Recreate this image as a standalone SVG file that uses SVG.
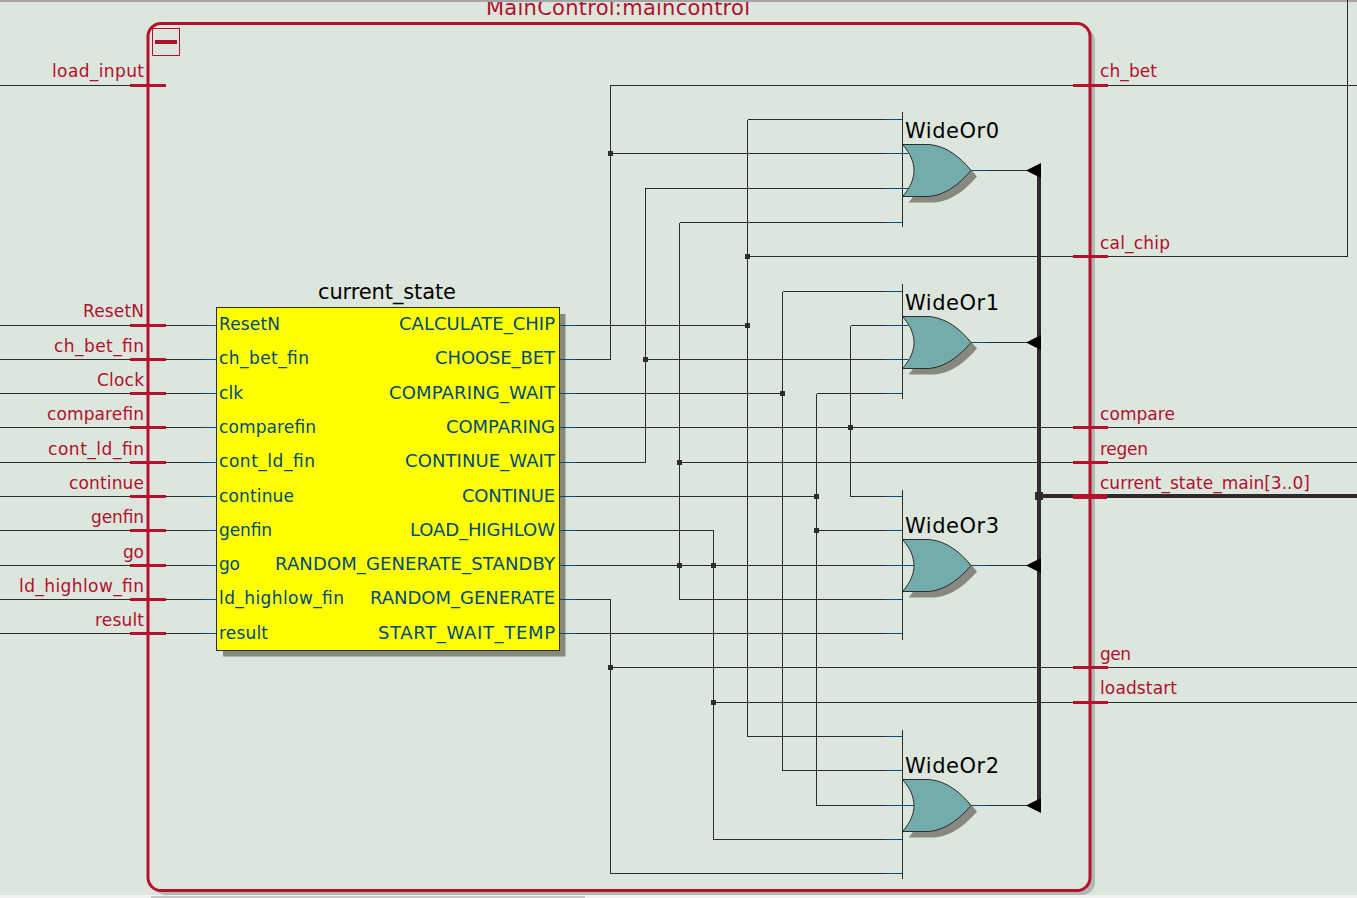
<svg xmlns="http://www.w3.org/2000/svg" width="1357" height="898" viewBox="0 0 1357 898">
<defs>
<path id="orShape" d="M0 -26 L27 -26 C45 -24 58 -13 68.500 0 C58 12 45 24 27 26 L0 26 C8 17 11.500 8 11.500 0 C11.500 -8 8 -17 0 -26 Z"/>
</defs>
<style>
text{font-family:"DejaVu Sans",sans-serif}
.w{fill:none;stroke:#2c2c2c;stroke-width:1;shape-rendering:crispEdges}
.stub{fill:none;stroke:#0a4a78;stroke-width:1;shape-rendering:crispEdges}
.bus{fill:none;stroke:#2c2c2c;stroke-width:4;shape-rendering:crispEdges}
.j{fill:#2c2c2c}
.tick{stroke:#b5102e;stroke-width:3;shape-rendering:crispEdges}
.pl,.pr{fill:#b0102c;font-size:17px}
.in{fill:#004a7a;font-size:17px}
.out{fill:#004a7a;font-size:18px;text-anchor:end}
.nm{fill:#000;font-size:21px}
.gate{fill:#74acac;stroke:#2c2c2c;stroke-width:1}
.shadow{fill:#87897f}
.arr{fill:#000}
</style>
<rect width="1357" height="898" fill="#dde6dd"/>
<rect x="0" y="895" width="1357" height="3" fill="#f2f2f2"/>
<rect x="151" y="896" width="434" height="2" fill="#c8c8c8"/>
<g id="frame">
<rect x="153" y="28" width="942" height="867" rx="13" fill="#b1b7b1"/>
<rect x="148" y="23.500" width="942" height="867" rx="13" fill="#dde6dd" stroke="#b5102e" stroke-width="3"/>
<rect x="152.500" y="28.500" width="27" height="27" fill="none" stroke="#b0102c" stroke-width="1"/>
<rect x="155" y="40" width="22" height="4" fill="#b0102c"/>
<text x="486" y="15" textLength="264" style="fill:#b0102c;font-size:21px">MainControl:maincontrol</text>
<rect x="0" y="0" width="1357" height="2" fill="#a5a5a5"/>
</g>
<g id="current_state_shadow">
<rect x="223" y="314" width="342.500" height="342.500" fill="#87897f"/>
</g>
<g id="connectors">
<path class="w" d="M0 85.500H131M0 325.500H217M0 359.500H217M0 393.500H217M0 427.500H217M0 462.500H217M0 496.500H217M0 530.500H217M0 565.500H217M0 599.500H217M0 633.500H217"/>
<path class="w" d="M559 325.500H747.500M747.500 119.500V736.500M747.500 119.500H902M747.500 736.500H902M747.500 256.500H1347.500V0"/>
<path class="w" d="M559 359.500H610.500V85.500H1357M610.500 153.500H902"/>
<path class="w" d="M559 462.500H645.500V188.500H902M645.500 359.500H902"/>
<path class="w" d="M559 393.500H782.500M782.500 291.500V770.500M782.500 291.500H902M782.500 770.500H902"/>
<path class="w" d="M559 427.500H1357M850.500 325.500V496.500M850.500 325.500H902M850.500 496.500H902"/>
<path class="w" d="M679.500 222.500V599.500M679.500 222.500H902M679.500 599.500H902M679.500 462.500H1357"/>
<path class="w" d="M559 496.500H816.500M816.500 393.500V805.500M816.500 393.500H902M816.500 530.500H902M816.500 805.500H914"/>
<path class="w" d="M559 530.500H713.500V839.500H902M713.500 702.500H1357"/>
<path class="w" d="M559 565.500H914"/>
<path class="w" d="M559 599.500H610.500V873.500H902M610.500 667.500H1357"/>
<path class="w" d="M559 633.500H902"/>
<path class="w" d="M902.500 112V227M902.500 284V399M902.500 490V640M902.500 730V879"/>
<path class="w" d="M971 170.500H1027M971 342.500H1027M971 565.500H1027M971 805.500H1027"/>
<path class="stub" d="M202 325.500H217M202 359.500H217M202 393.500H217M202 427.500H217M202 462.500H217M202 496.500H217M202 530.500H217M202 565.500H217M202 599.500H217M202 633.500H217"/>
<path class="stub" d="M560 325.500H576M560 359.500H576M560 393.500H576M560 427.500H576M560 462.500H576M560 496.500H576M560 530.500H576M560 565.500H576M560 599.500H576M560 633.500H576"/>
<path class="stub" d="M885 119.500H902M885 153.500H908M885 188.500H908M885 222.500H902M885 291.500H902M885 325.500H908M885 359.500H908M885 393.500H902M885 496.500H902M885 530.500H902M885 565.500H914M885 599.500H902M885 633.500H902M885 736.500H902M885 770.500H902M885 805.500H914M885 839.500H902M885 873.500H902"/>
<path class="stub" d="M972 170.500H988M972 342.500H988M972 565.500H988M972 805.500H988"/>
<path class="bus" d="M1039 170V805M1039 496H1357"/>
<g>
<rect class="j" x="608" y="151" width="5" height="5"/><rect class="j" x="745" y="254" width="5" height="5"/>
<rect class="j" x="745" y="323" width="5" height="5"/><rect class="j" x="643" y="357" width="5" height="5"/>
<rect class="j" x="780" y="391" width="5" height="5"/><rect class="j" x="848" y="425" width="5" height="5"/>
<rect class="j" x="677" y="460" width="5" height="5"/><rect class="j" x="814" y="494" width="5" height="5"/>
<rect class="j" x="814" y="528" width="5" height="5"/><rect class="j" x="677" y="563" width="5" height="5"/>
<rect class="j" x="711" y="563" width="5" height="5"/><rect class="j" x="608" y="665" width="5" height="5"/>
<rect class="j" x="711" y="700" width="5" height="5"/><rect class="j" x="1035" y="492" width="8" height="8"/>
</g>
<path class="arr" d="M1041 163V178L1026 170.500ZM1041 335V350L1026 342.500ZM1041 558V573L1026 565.500ZM1041 798V813L1026 805.500Z"/>
</g>
<g id="ticks">
<path class="tick" d="M130 85.500H166M130 325.500H166M130 359.500H166M130 393.500H166M130 427.500H166M130 462.500H166M130 496.500H166M130 530.500H166M130 565.500H166M130 599.500H166M130 633.500H166"/>
<path class="tick" d="M1073 85.500H1108M1073 256.500H1108M1073 427.500H1108M1073 462.500H1108M1073 667.500H1108M1073 702.500H1108"/>
<path class="tick" style="stroke-width:5" d="M1073 496H1107"/>
</g>
<g id="input-ports" class="pl">
<text x="52" y="77" textLength="92">load_input</text>
<text x="83" y="317" textLength="61">ResetN</text>
<text x="54" y="352" textLength="90">ch_bet_fin</text>
<text x="97" y="386" textLength="47">Clock</text>
<text x="47" y="420" textLength="97">comparefin</text>
<text x="48" y="455" textLength="96">cont_ld_fin</text>
<text x="69" y="489" textLength="75">continue</text>
<text x="91" y="523" textLength="53">genfin</text>
<text x="123" y="558" textLength="21">go</text>
<text x="19" y="592" textLength="125">ld_highlow_fin</text>
<text x="95" y="626" textLength="49">result</text>
</g>
<g id="output-ports" class="pr">
<text x="1100" y="77" textLength="57">ch_bet</text>
<text x="1100" y="249" textLength="70">cal_chip</text>
<text x="1100" y="420" textLength="75">compare</text>
<text x="1100" y="455" textLength="48">regen</text>
<text x="1100" y="489" textLength="210">current_state_main[3..0]</text>
<text x="1100" y="660" textLength="31">gen</text>
<text x="1100" y="694" textLength="77">loadstart</text>
</g>
<g id="current_state">
<rect x="216.500" y="307.500" width="343" height="343" fill="#ffff00" stroke="#2c2c2c" stroke-width="1"/>
<text class="nm" x="318" y="299" textLength="138">current_state</text>
<text class="in" x="219" y="330" textLength="61">ResetN</text>
<text class="in" x="219" y="364" textLength="90">ch_bet_fin</text>
<text class="in" x="219" y="399" textLength="24">clk</text>
<text class="in" x="219" y="433" textLength="97">comparefin</text>
<text class="in" x="219" y="467" textLength="96">cont_ld_fin</text>
<text class="in" x="219" y="502" textLength="75">continue</text>
<text class="in" x="219" y="536" textLength="53">genfin</text>
<text class="in" x="219" y="570" textLength="21">go</text>
<text class="in" x="219" y="604" textLength="125">ld_highlow_fin</text>
<text class="in" x="219" y="639" textLength="49">result</text>
<text class="out" x="555" y="330" textLength="156">CALCULATE_CHIP</text>
<text class="out" x="555" y="364" textLength="120">CHOOSE_BET</text>
<text class="out" x="555" y="399" textLength="166">COMPARING_WAIT</text>
<text class="out" x="555" y="433" textLength="109">COMPARING</text>
<text class="out" x="555" y="467" textLength="150">CONTINUE_WAIT</text>
<text class="out" x="555" y="502" textLength="93">CONTINUE</text>
<text class="out" x="555" y="536" textLength="145">LOAD_HIGHLOW</text>
<text class="out" x="555" y="570" textLength="280">RANDOM_GENERATE_STANDBY</text>
<text class="out" x="555" y="604" textLength="185">RANDOM_GENERATE</text>
<text class="out" x="555" y="639" textLength="177">START_WAIT_TEMP</text>
</g>
<g id="WideOr0">
<use href="#orShape" class="shadow" x="908.500" y="176.500"/>
<use href="#orShape" class="gate" x="902.500" y="170.500"/>
<text class="nm" x="905" y="138" textLength="94">WideOr0</text>
</g>
<g id="WideOr1">
<use href="#orShape" class="shadow" x="908.500" y="348.500"/>
<use href="#orShape" class="gate" x="902.500" y="342.500"/>
<text class="nm" x="905" y="310" textLength="94">WideOr1</text>
</g>
<g id="WideOr3">
<use href="#orShape" class="shadow" x="908.500" y="571.500"/>
<use href="#orShape" class="gate" x="902.500" y="565.500"/>
<text class="nm" x="905" y="533" textLength="94">WideOr3</text>
</g>
<g id="WideOr2">
<use href="#orShape" class="shadow" x="908.500" y="811.500"/>
<use href="#orShape" class="gate" x="902.500" y="805.500"/>
<text class="nm" x="905" y="773" textLength="94">WideOr2</text>
</g>
</svg>
